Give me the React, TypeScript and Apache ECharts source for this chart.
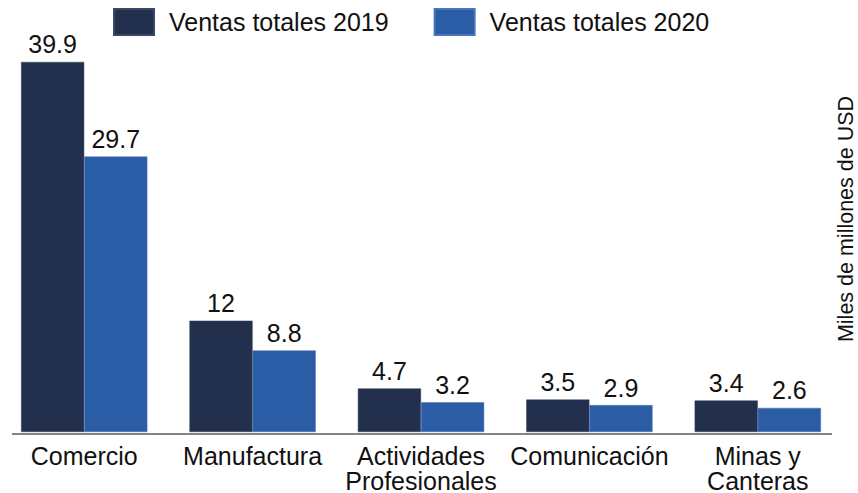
import React, { useEffect, useRef } from "react";
import * as echarts from "echarts";

const categories = [
  "Comercio",
  "Manufactura",
  "Actividades\nProfesionales",
  "Comunicación",
  "Minas y\nCanteras",
];
const ventas2019 = [39.9, 12, 4.7, 3.5, 3.4];
const ventas2020 = [29.7, 8.8, 3.2, 2.9, 2.6];
const seriesNames = ["Ventas totales 2019", "Ventas totales 2020"];
const axisName = "Miles de millones de USD";

const FONT = "'Liberation Sans', Arial, Helvetica, sans-serif";
const TEXT = "#111111";

export default function App() {
  const ref = useRef<HTMLDivElement>(null);
  useEffect(() => {
    if (!ref.current) return;
    const chart = echarts.init(ref.current, undefined, { renderer: "svg" });
    const label = {
      show: true,
      position: "top" as const,
      distance: 5,
      fontSize: 25,
      fontFamily: FONT,
      color: TEXT,
    };
    chart.setOption({
      animation: false,
      backgroundColor: "#ffffff",
      textStyle: { fontFamily: FONT },
      legend: {
        left: 113,
        top: 8,
        padding: 0,
        itemWidth: 40,
        itemHeight: 26,
        itemGap: 45,
        icon: "rect",
        textStyle: {
          fontSize: 25,
          fontFamily: FONT,
          color: TEXT,
          padding: [0, 0, 0, 10],
        },
        data: seriesNames,
      },
      grid: { left: 0, right: 16, top: 61, bottom: 59, containLabel: false },
      xAxis: {
        type: "category",
        data: categories,
        axisLine: { show: false },
        axisTick: { show: false },
        axisLabel: {
          fontSize: 25,
          lineHeight: 25,
          margin: 11,
          color: TEXT,
          fontFamily: FONT,
          interval: 0,
        },
      },
      yAxis: {
        type: "value",
        min: 0,
        max: 40,
        show: false,
      },
      graphic: [
        {
          type: "line",
          shape: { x1: 12, y1: 434, x2: 832, y2: 434 },
          style: { stroke: "#5a5a5a", lineWidth: 1.5 },
          z: 10,
        },
        {
          type: "text",
          x: 846,
          y: 219,
          rotation: Math.PI / 2,
          style: {
            text: axisName,
            fontSize: 21.5,
            fontFamily: FONT,
            fill: TEXT,
            align: "center",
            verticalAlign: "middle",
          },
        },
      ],
      series: [
        {
          name: seriesNames[0],
          type: "bar",
          data: ventas2019,
          barGap: "0%",
          barCategoryGap: "25%",
          itemStyle: { color: "#222f4d", borderColor: "#3a4766", borderWidth: 0.5 },
          label,
        },
        {
          name: seriesNames[1],
          type: "bar",
          data: ventas2020,
          barGap: "0%",
          barCategoryGap: "25%",
          itemStyle: { color: "#2b5ca6", borderColor: "#4a74b6", borderWidth: 0.5 },
          label,
        },
      ],
    });
    return () => chart.dispose();
  }, []);
  return (
    <div
      ref={ref}
      style={{ position: "fixed", left: 0, top: 0, width: 858, height: 493 }}
    />
  );
}
